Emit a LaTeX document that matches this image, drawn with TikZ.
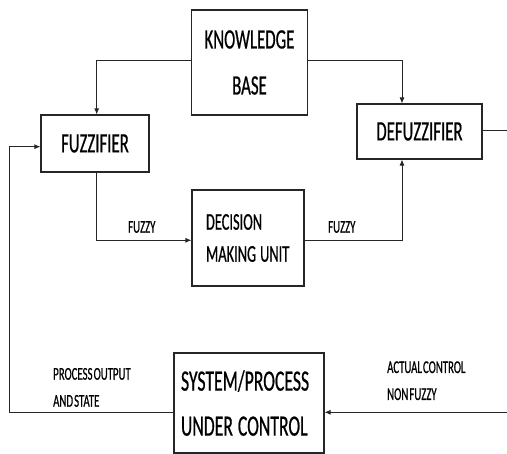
\documentclass[tikz,border=0pt]{standalone}
\usepackage{fontspec}
\setmainfont{Carlito}[FakeStretch=0.6,FakeBold=0.6,WordSpace=0.45]
\usetikzlibrary{arrows.meta}
\tikzset{
  box/.style={draw=black!85, line width=1.1pt, inner sep=0pt},
  conn/.style={draw=black!85, line width=0.9pt},
  arr/.style={conn, -{Latex[length=6pt,width=5pt]}},
  lbl/.style={inner sep=0pt, anchor=base west, align=left, font=\fontsize{18}{27}\selectfont},
}
\begin{document}
\begin{tikzpicture}[x=1pt,y=-1pt]
\useasboundingbox (0,0) rectangle (507,454);
% boxes
\node[box, minimum width=116pt, minimum height=105pt, align=center,
      font=\fontsize{28}{46}\selectfont] (kb) at (249.5,62.5) {KNOWLEDGE\\BASE};
\node[box, minimum width=108pt, minimum height=57pt,
      font=\fontsize{28}{34}\selectfont] (fz) at (95,143.5) {FUZZIFIER};
\node[box, minimum width=125pt, minimum height=55pt,
      font=\fontsize{28}{34}\selectfont] (dfz) at (419.5,131.5) {DEFUZZIFIER};
\node[box, text width=112pt, minimum height=96pt, align=left,
      font=\fontsize{24}{32}\selectfont] (dmu) at (248,238)
      {\hspace*{14pt}DECISION\\\hspace*{14pt}MAKING\hspace{4pt}UNIT};
\node[box, text width=150pt, minimum height=100pt, align=left,
      font=\fontsize{29.5}{45}\selectfont] (sys) at (249,403)
      {\hspace*{7pt}SYSTEM/PROCESS\\\hspace*{7pt}UNDER\hspace{5pt}CONTROL};
% free ends
\coordinate (outR) at (507,130);
\coordinate (inR) at (507,412.3);
\coordinate (loopL) at (9.3,0);
% connectors
\draw[arr] (kb.west |- 0,60) -| (fz.north -| 96.7,0);
\draw[arr] (kb.east |- 0,60) -| (dfz.north -| 402,0);
\draw[conn] (dfz.east |- outR) -- (outR);
\draw[arr] (fz.south -| 96.7,0) |- (dmu.west |- 0,240.3);
\draw[arr] (dmu.east |- 0,240.3) -| (dfz.south -| 402,0);
\draw[arr] (inR) -- (sys.east |- inR);
\draw[arr] (sys.west |- inR) -| (loopL |- 0,146.7) -- (fz.west |- 0,146.7);
% labels (anchor at the baseline of the last line)
\node[lbl] (fl1) at (128,232.7) {FUZZY};
\node[lbl] (fl2) at (328,232.7) {FUZZY};
\node[lbl] (po) at (53,406.7) {PROCESS OUTPUT\\AND STATE};
\node[lbl] (ac) at (387,400) {ACTUAL CONTROL\\NON FUZZY};
\end{tikzpicture}
\end{document}
